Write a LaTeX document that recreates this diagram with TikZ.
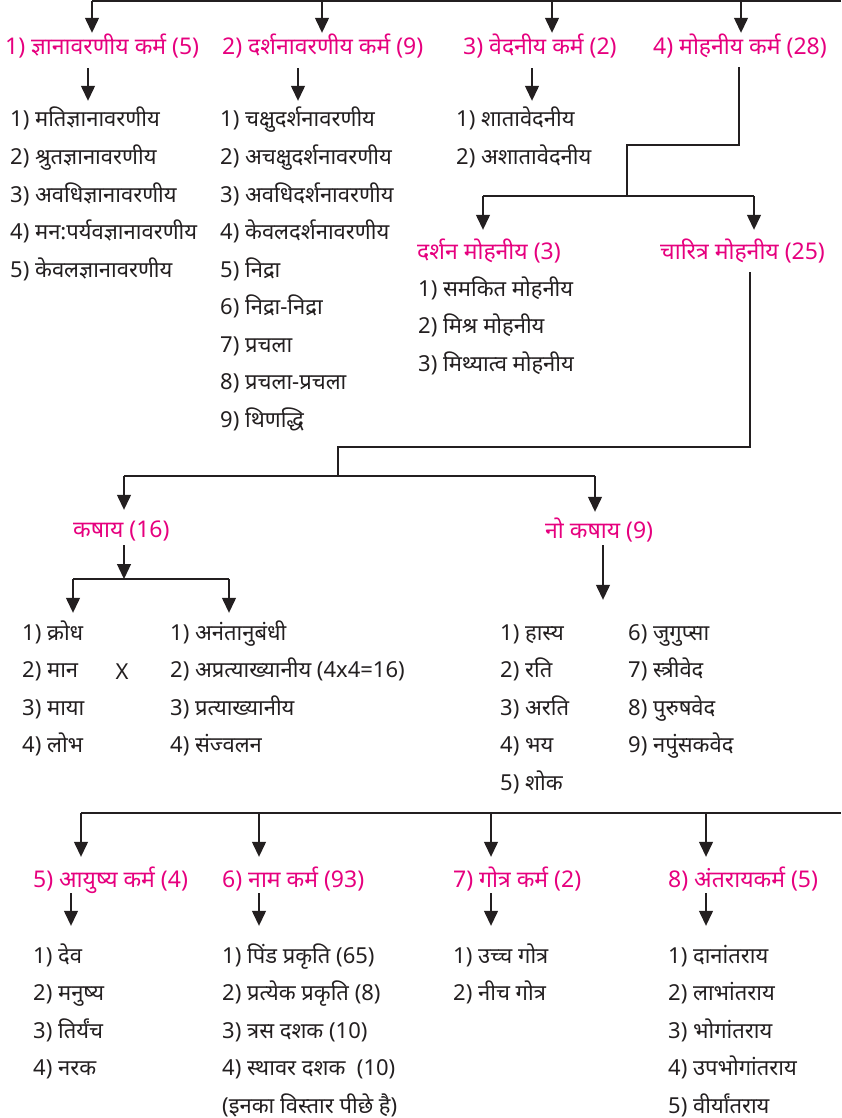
\documentclass[tikz,border=0pt]{standalone}
\usepackage{fontspec}
\setmainfont{Noto Sans}[Script=Devanagari]
\usetikzlibrary{arrows.meta,positioning}
\definecolor{karmapink}{RGB}{230,0,126}
\definecolor{inkgray}{RGB}{35,31,32}

\tikzset{
  head/.style={anchor=base west,inner sep=0pt,text height=15pt,text depth=5pt,
    text=karmapink,font=\fontsize{23}{23}\selectfont},
  item/.style={anchor=base west,inner sep=0pt,text height=15pt,text depth=5pt,
    text=inkgray,font=\fontsize{22}{22}\selectfont},
  bar/.style={draw=inkgray,line width=1.3pt},
  arr/.style={bar,-{Triangle[width=14pt,length=15pt]}},
  sub/.style={arr,shorten <=8pt,shorten >=11pt}
}

\begin{document}
\begin{tikzpicture}[x=1pt,y=-1pt,node distance=37.5pt]
\useasboundingbox (0,0) rectangle (841,1118);

% the eight karmas, first row
\node[head] (k1) at (5,55) {1) ज्ञानावरणीय कर्म (5)};
\node[head] (k2) at (222,55) {2) दर्शनावरणीय कर्म (9)};
\node[head] (k3) at (463,55) {3) वेदनीय कर्म (2)};
\node[head] (k4) at (653,55) {4) मोहनीय कर्म (28)};

\coordinate (top) at (92,1);
\coordinate (topend) at (841,1);
\draw[bar] (top) -- (topend);
\draw[arr,shorten >=7pt] (top) -- (k1.north -| top);
\draw[arr,shorten >=7pt] (top -| 322,0) -- (k2.north -| 322,0);
\draw[arr,shorten >=7pt] (top -| 552,0) -- (k3.north -| 552,0);
\draw[arr,shorten >=7pt] (top -| 741,0) -- (k4.north -| 741,0);

% gyanavarniya
\node[item] (a1) at (10,127) {1) मतिज्ञानावरणीय};
\node[below=of a1.base west,item] (a2) {2) श्रुतज्ञानावरणीय};
\node[below=of a2.base west,item] (a3) {3) अवधिज्ञानावरणीय};
\node[below=of a3.base west,item] (a4) {4) मन:पर्यवज्ञानावरणीय};
\node[below=of a4.base west,item] (a5) {5) केवलज्ञानावरणीय};
\draw[sub] (k1.south -| 88,0) -- (a1.north -| 88,0);

% darshanavarniya
\node[item] (b1) at (220,127) {1) चक्षुदर्शनावरणीय};
\node[below=of b1.base west,item] (b2) {2) अचक्षुदर्शनावरणीय};
\node[below=of b2.base west,item] (b3) {3) अवधिदर्शनावरणीय};
\node[below=of b3.base west,item] (b4) {4) केवलदर्शनावरणीय};
\node[below=of b4.base west,item] (b5) {5) निद्रा};
\node[below=of b5.base west,item] (b6) {6) निद्रा-निद्रा};
\node[below=of b6.base west,item] (b7) {7) प्रचला};
\node[below=of b7.base west,item] (b8) {8) प्रचला-प्रचला};
\node[below=of b8.base west,item] (b9) {9) थिणद्धि};
\draw[sub] (k2.south -| 298,0) -- (b1.north -| 298,0);

% vedniya
\node[item] (c1) at (456,127) {1) शातावेदनीय};
\node[below=of c1.base west,item] (c2) {2) अशातावेदनीय};
\draw[sub] (k3.south -| 532,0) -- (c1.north -| 532,0);

% mohniya
\node[head] (dm) at (417,259) {दर्शन मोहनीय (3)};
\node[head] (cm) at (660,259) {चारित्र मोहनीय (25)};
\coordinate (mj) at (627,196);
\coordinate (dml) at (483,196);
\coordinate (dmr) at (754,196);
\draw[bar,shorten <=7pt] (k4.south -| 739,0) |- (627,145) -- (mj);
\draw[bar] (dml) -- (dmr);
\draw[arr,shorten >=14pt] (dml) -- (dm.north -| dml);
\draw[arr,shorten >=14pt] (dmr) -- (cm.north -| dmr);

\node[item] (d1) at (418,296) {1) समकित मोहनीय};
\node[below=of d1.base west,item] (d2) {2) मिश्र मोहनीय};
\node[below=of d2.base west,item] (d3) {3) मिथ्यात्व मोहनीय};

% charitra mohniya
\node[head] (ks) at (73,537) {कषाय (16)};
\node[head] (nk) at (545,538) {नो कषाय (9)};
\coordinate (kj) at (338,476);
\coordinate (ksl) at (124,476);
\coordinate (ksr) at (595,476);
\draw[bar,shorten <=8pt] (cm.south -| 750,0) |- (338,447) -- (kj);
\draw[bar] (ksl) -- (ksr);
\draw[arr,shorten >=12pt] (ksl) -- (ks.north -| ksl);
\draw[arr,shorten >=11pt] (ksr) -- (nk.north -| ksr);

% kashaya
\coordinate (kbl) at (73,579);
\coordinate (kbm) at (124,579);
\coordinate (kbr) at (229,579);
\draw[bar] (kbl) -- (kbr);
\draw[arr,shorten <=3pt] (ks.south -| kbm) -- (kbm);
\node[item] (e1) at (22,640) {1) क्रोध};
\node[below=of e1.base west,item] (e2) {2) मान};
\node[below=of e2.base west,item] (e3) {3) माया};
\node[below=of e3.base west,item] (e4) {4) लोभ};
\node[item,anchor=base] (times) at (122,679) {X};
\node[item] (f1) at (170,640) {1) अनंतानुबंधी};
\node[below=of f1.base west,item] (f2) {2) अप्रत्याख्यानीय (4x4=16)};
\node[below=of f2.base west,item] (f3) {3) प्रत्याख्यानीय};
\node[below=of f3.base west,item] (f4) {4) संज्वलन};
\draw[arr,shorten >=12pt] (kbl) -- (e1.north -| kbl);
\draw[arr,shorten >=12pt] (kbr) -- (f1.north -| kbr);

% no kashaya
\node[item] (g1) at (500,640) {1) हास्य};
\node[below=of g1.base west,item] (g2) {2) रति};
\node[below=of g2.base west,item] (g3) {3) अरति};
\node[below=of g3.base west,item] (g4) {4) भय};
\node[below=of g4.base west,item] (g5) {5) शोक};
\node[item] (g6) at (628,640) {6) जुगुप्सा};
\node[below=of g6.base west,item] (g7) {7) स्त्रीवेद};
\node[below=of g7.base west,item] (g8) {8) पुरुषवेद};
\node[below=of g8.base west,item] (g9) {9) नपुंसकवेद};
\draw[arr,shorten <=2pt,shorten >=25pt] (nk.south -| 603,0) -- (g1.north -| 603,0);

% the eight karmas, second row
\node[head] (k5) at (33,887) {5) आयुष्य कर्म (4)};
\node[head] (k6) at (222,887) {6) नाम कर्म (93)};
\node[head] (k7) at (453,887) {7) गोत्र कर्म (2)};
\node[head] (k8) at (668,887) {8) अंतरायकर्म (5)};

\coordinate (bot) at (81,813);
\coordinate (botend) at (841,813);
\draw[bar] (bot) -- (botend);
\draw[arr,shorten >=15pt] (bot) -- (k5.north -| bot);
\draw[arr,shorten >=15pt] (bot -| 259,0) -- (k6.north -| 259,0);
\draw[arr,shorten >=15pt] (bot -| 491,0) -- (k7.north -| 491,0);
\draw[arr,shorten >=15pt] (bot -| 706,0) -- (k8.north -| 706,0);

% ayushya
\node[item] (h1) at (33,963) {1) देव};
\node[below=of h1.base west,item] (h2) {2) मनुष्य};
\node[below=of h2.base west,item] (h3) {3) तिर्यंच};
\node[below=of h3.base west,item] (h4) {4) नरक};

% naam
\node[item] (n1) at (222,963) {1) पिंड प्रकृति (65)};
\node[below=of n1.base west,item] (n2) {2) प्रत्येक प्रकृति (8)};
\node[below=of n2.base west,item] (n3) {3) त्रस दशक (10)};
\node[below=of n3.base west,item] (n4) {4) स्थावर दशक\ \ (10)};
\node[below=of n4.base west,item] (n5) {(इनका विस्तार पीछे है)};

% gotra
\node[item] (o1) at (453,963) {1) उच्च गोत्र};
\node[below=of o1.base west,item] (o2) {2) नीच गोत्र};

% antaraya
\node[item] (p1) at (668,963) {1) दानांतराय};
\node[below=of p1.base west,item] (p2) {2) लाभांतराय};
\node[below=of p2.base west,item] (p3) {3) भोगांतराय};
\node[below=of p3.base west,item] (p4) {4) उपभोगांतराय};
\node[below=of p4.base west,item] (p5) {5) वीर्यांतराय};

\draw[sub,shorten <=1pt,shorten >=22pt] (k5.south -| 71,0) -- (h1.north -| 71,0);
\draw[sub,shorten <=1pt,shorten >=22pt] (k6.south -| 259,0) -- (n1.north -| 259,0);
\draw[sub,shorten <=1pt,shorten >=22pt] (k7.south -| 491,0) -- (o1.north -| 491,0);
\draw[sub,shorten <=1pt,shorten >=22pt] (k8.south -| 706,0) -- (p1.north -| 706,0);
\end{tikzpicture}
\end{document}
